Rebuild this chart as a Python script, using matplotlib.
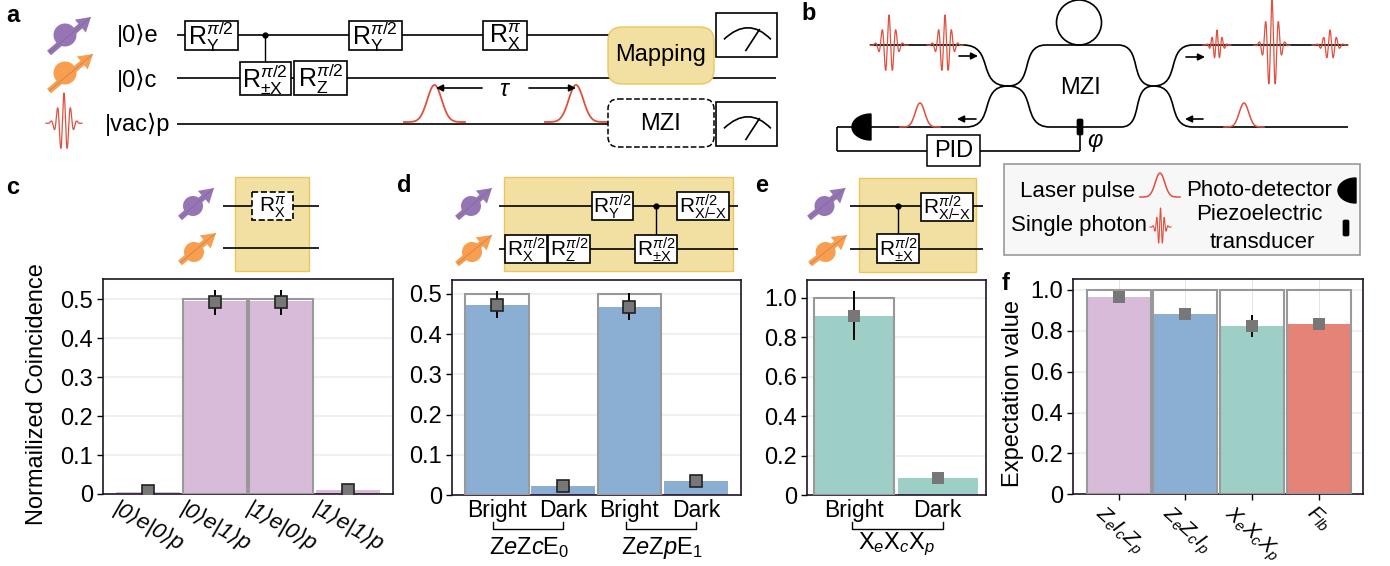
import numpy as np
import matplotlib
matplotlib.use('Agg')
import matplotlib.pyplot as plt
from matplotlib.patches import Rectangle, FancyBboxPatch, Circle, FancyArrow, PathPatch
from matplotlib.path import Path

plt.rcParams['font.family'] = ['Liberation Sans', 'DejaVu Sans']
plt.rcParams['mathtext.fontset'] = 'custom'
plt.rcParams['mathtext.rm'] = 'Liberation Sans'
plt.rcParams['mathtext.it'] = 'Liberation Sans:italic'
plt.rcParams['mathtext.bf'] = 'Liberation Sans:bold'

# ── Data ──────────────────────────────────────────────────────────────────────
c_labels = ['|0⟩e|0⟩p', '|0⟩e|1⟩p', '|1⟩e|0⟩p', '|1⟩e|1⟩p']
c_ideal = [0, 0.5, 0.5, 0]
c_bars = [0.005, 0.495, 0.495, 0.01]
c_points = [0.008, 0.492, 0.492, 0.011]
c_errs = [0.004, 0.033, 0.033, 0.004]
c_ticks = [0, 0.1, 0.2, 0.3, 0.4, 0.5]

d_labels = ['Bright', 'Dark', 'Bright', 'Dark']
d_ideal = [0.5, 0, 0.5, 0]
d_bars = [0.473, 0.024, 0.468, 0.036]
d_points = [0.473, 0.023, 0.468, 0.035]
d_errs = [0.0335, 0.004, 0.0335, 0.004]
d_ticks = [0, 0.1, 0.2, 0.3, 0.4, 0.5]

e_labels = ['Bright', 'Dark']
e_ideal = [1, 0]
e_bars = [0.91, 0.088]
e_points = [0.91, 0.088]
e_errs = [0.124, 0.02]
e_ticks = [0, 0.2, 0.4, 0.6, 0.8, 1.0]

f_labels = [r'$\mathit{Z_eI_cZ_p}$', r'$\mathit{Z_eZ_cI_p}$',
            r'$\mathit{X_eX_cX_p}$', r'$\mathit{F_{lb}}$']
f_ideal = [1, 1, 1, 1]
f_bars = [0.965, 0.882, 0.822, 0.833]
f_points = [0.965, 0.882, 0.822, 0.833]
f_errs = [0.01, 0.01, 0.054, 0.03]
f_ticks = [0, 0.2, 0.4, 0.6, 0.8, 1.0]

PURPLE = '#D8BBD8'
BLUE = '#8AAFD2'
TEAL = '#9DCFC6'
SALMON = '#E58377'
YELLOW = '#F2DFA2'
YEDGE = '#EBC65E'
RED = '#E0503F'
Q_PURPLE = '#9675B5'
Q_ORANGE = '#F99D4F'

W, H = 1390, 566
fig = plt.figure(figsize=(W / 100, H / 100), dpi=100)


# ── Bar panels ────────────────────────────────────────────────────────────────
def px_axes(left, top, right, bottom):
    return fig.add_axes([left / W, 1 - bottom / H, (right - left) / W, (bottom - top) / H])


def fmt(v):
    return '0' if v == 0 else f'{v:.1f}'


def bar_panel(ax, ideal, bars, points, errs, color, ticks, xlim, ylim, labels, edge=True):
    xs = np.arange(len(bars))
    ax.bar(xs, bars, width=0.96, color=color, zorder=2)
    for x, v in zip(xs, ideal):
        if v > 0:
            ax.bar(x, v, width=0.96, fill=False, edgecolor='#999999', lw=1.5, zorder=3)
    ax.errorbar(xs, points, yerr=errs, fmt='s', ms=8, mfc='#777777',
                mec='#222222' if edge else '#777777', mew=1.2 if edge else 0,
                ecolor='black', elinewidth=1.4, zorder=4)
    ax.set_xlim(*xlim)
    ax.set_ylim(*ylim)
    ax.set_yticks(ticks)
    ax.set_yticklabels([fmt(t) for t in ticks], fontsize=17)
    ax.set_xticks(xs)
    ax.set_xticklabels(labels, fontsize=16.5)
    ax.tick_params(axis='y', length=4, width=1, pad=3)
    ax.tick_params(axis='x', length=0, pad=3)
    ax.grid(axis='y', color='#EEEEEE', lw=1.2, zorder=0)
    ax.set_axisbelow(True)
    for s in ax.spines.values():
        s.set_color('#20142A')
        s.set_linewidth(1.2)


ax_c = px_axes(103, 279, 393, 494)
bar_panel(ax_c, c_ideal, c_bars, c_points, c_errs, PURPLE, c_ticks,
          (-0.676, 3.68), (0, 0.552), c_labels)
plt.setp(ax_c.get_xticklabels(), rotation=-30, ha='center', va='top', style='italic', fontsize=16)
ax_c.set_ylabel('Normailized Coincidence', fontsize=17, va='center')
ax_c.yaxis.set_label_coords(-0.228, 0.465)

ax_d = px_axes(451.7, 280, 741, 495.3)
bar_panel(ax_d, d_ideal, d_bars, d_points, d_errs, BLUE, d_ticks,
          (-0.678, 3.68), (0, 0.534), d_labels)

ax_e = px_axes(806.6, 280, 985.8, 495.3)
bar_panel(ax_e, e_ideal, e_bars, e_points, e_errs, TEAL, e_ticks,
          (-0.573, 1.579), (0, 1.09), e_labels, edge=False)

ax_f = px_axes(1073, 279.3, 1363.4, 494.3)
bar_panel(ax_f, f_ideal, f_bars, f_points, f_errs, [PURPLE, BLUE, TEAL, SALMON], f_ticks,
          (-0.688, 3.673), (0, 1.052), f_labels, edge=False)
plt.setp(ax_f.get_xticklabels(), rotation=-42, ha='center', va='top', fontsize=15)
ax_f.tick_params(axis='x', length=4, width=1, pad=2)
ax_f.grid(axis='x', color='#E4E4E4', lw=0.7)
for artist in ax_f.get_xgridlines():
    artist.set_zorder(3)
ax_f.set_ylabel('Expectation value', fontsize=17, va='center')
ax_f.yaxis.set_label_coords(-0.208, 0.47)

# ── Overlay in pixel coordinates for the schematics ───────────────────────────
ov = fig.add_axes([0, 0, 1, 1], zorder=5)
ov.set_xlim(0, W)
ov.set_ylim(H, 0)
ov.axis('off')
ov.patch.set_alpha(0)


def wire(x0, y0, x1, y1, lw=1.2, z=1):
    ov.plot([x0, x1], [y0, y1], color='black', lw=lw, solid_capstyle='butt', zorder=z)


def gate(x0, y0, x1, y1, sup, sub, dashed=False, size=15):
    ov.add_patch(Rectangle((x0, y0), x1 - x0, y1 - y0, fc='white', ec='black',
                           lw=1.2, ls='--' if dashed else '-', zorder=4))
    ov.text((x0 + x1) / 2, (y0 + y1) / 2 + 1, rf'R$^{{{sup}}}_{{{sub}}}$', fontsize=size,
            ha='center', va='center', zorder=5)


def control(x, y0, y1):
    ov.plot([x, x], [y0, y1], color='black', lw=1, zorder=3)
    ov.plot(x, y0, 'o', color='black', ms=3.5, zorder=3)


def qubit(cx, cy, x0, y0, x1, y1, color, r=10, w=6, hw=17, hl=14):
    ov.add_patch(Circle((cx, cy), r, fc=color, ec='none', zorder=3))
    ov.add_patch(FancyArrow(x0, y0, x1 - x0, y1 - y0, width=w, head_width=hw, head_length=hl,
                            length_includes_head=True, fc=color, ec='none', zorder=3))
    ov.plot([x0, x1], [y0, y1], color='#555555', lw=0.3, alpha=0.6, zorder=3)


def meter(x0, y0, x1, y1):
    ov.add_patch(Rectangle((x0, y0), x1 - x0, y1 - y0, fc='white', ec='black', lw=1.2, zorder=4))
    w, h = x1 - x0, y1 - y0
    path = Path([(x0 + 0.13 * w, y0 + 0.6 * h), (x0 + 0.53 * w, y0 + 0.07 * h),
                 (x0 + 0.9 * w, y0 + 0.6 * h)], [Path.MOVETO, Path.CURVE3, Path.CURVE3])
    ov.add_patch(PathPatch(path, fc='none', ec='black', lw=1.2, zorder=5))
    ov.plot([x0 + 0.49 * w, x0 + 0.71 * w], [y0 + 0.85 * h, y0 + 0.38 * h], color='black', lw=1.2, zorder=5)


def pulse(x0, x1, base, top, lw=1.1):
    xs = np.linspace(x0, x1, 120)
    c = (x0 + x1) / 2
    s = (x1 - x0) / 8.5
    ov.plot(xs, base - (base - top) * np.exp(-(xs - c) ** 2 / (2 * s ** 2)), color=RED, lw=lw, zorder=3)


def wave(x0, x1, y, amp, lw=0.9, cycles=5.5):
    xs = np.linspace(x0, x1, 500)
    c = (x0 + x1) / 2
    s = (x1 - x0) / 6.5
    env = np.exp(-(xs - c) ** 2 / (2 * s ** 2))
    ov.plot(xs, y - amp * env * np.cos(2 * np.pi * cycles * (xs - c) / (x1 - x0)), color=RED, lw=lw, zorder=3)


def sbend(x0, y0, x1, y1):
    dx = 0.72 * (x1 - x0)
    path = Path([(x0, y0), (x0 + dx, y0), (x1 - dx, y1), (x1, y1)],
                [Path.MOVETO, Path.CURVE4, Path.CURVE4, Path.CURVE4])
    ov.add_patch(PathPatch(path, fc='none', ec='black', lw=1.2, zorder=1))


def arrow(x0, x1, y, lw=1.2):
    ov.annotate('', xy=(x1, y), xytext=(x0, y),
                arrowprops=dict(arrowstyle='-|>', color='black', lw=lw, shrinkA=0, shrinkB=0, mutation_scale=10),
                zorder=4)


def detector(xr, y, rx, ry):
    t = np.linspace(np.pi / 2, 3 * np.pi / 2, 40)
    ov.fill(xr + rx * np.cos(t), y + ry * np.sin(t), color='black', zorder=4)


def pzt(x0, x1, y0, y1):
    ov.add_patch(FancyBboxPatch((x0, y0), x1 - x0, y1 - y0, boxstyle='round,pad=0,rounding_size=1.5',
                                fc='black', ec='black', lw=0.5, zorder=4))


def bracket(x0, x1, y0, y1):
    ov.plot([x0, x0, x1, x1], [y0, y1, y1, y0], color='black', lw=1, zorder=3)


def yellow_box(x0, y0, x1, y1):
    ov.add_patch(Rectangle((x0, y0), x1 - x0, y1 - y0, fc=YELLOW, ec=YEDGE, lw=1, zorder=0))


for txt, x, y in [('a', 6, 15), ('b', 801, 13), ('c', 6, 187), ('d', 397, 186), ('e', 755, 186), ('f', 1002, 283)]:
    ov.text(x, y, txt, fontsize=17, fontweight='bold', ha='left', va='center')

# ── Panel a ───────────────────────────────────────────────────────────────────
qubit(65, 35, 49, 53, 91, 17, Q_PURPLE, r=11.5)
qubit(65, 73, 49, 91, 93, 54, Q_ORANGE, r=11.5)
wave(46, 82, 123, 30)
ov.text(117, 35, '|0⟩e', fontsize=17, va='center')
ov.text(117, 80, '|0⟩c', fontsize=17, va='center')
ov.text(105, 124, '|vac⟩p', fontsize=17, va='center')
wire(177, 35, 610, 35)
wire(177, 78, 776, 78)
wire(177, 124, 610, 124)
gate(185, 21, 237.5, 50, r'\pi/2', r'\mathrm{Y}', size=18)
gate(239.5, 62, 291, 95, r'\pi/2', r'\pm\mathrm{X}', size=18)
gate(294, 61, 347, 95, r'\pi/2', r'\mathrm{Z}', size=18)
gate(349, 21, 401.5, 50, r'\pi/2', r'\mathrm{Y}', size=18)
gate(482.5, 21, 527, 50, r'\pi', r'\mathrm{X}', size=18)
control(265, 35, 62)
pulse(404, 465, 122, 85, lw=1.3)
pulse(545, 607, 122, 85, lw=1.3)
arrow(482, 436, 88)
arrow(529, 576, 88)
ov.text(505, 90, r'$\tau$', fontsize=17, ha='center', va='center')
ov.add_patch(FancyBboxPatch((608, 27), 106, 57, boxstyle='round,pad=0,rounding_size=14',
                            fc=YELLOW, ec=YEDGE, lw=1, zorder=4))
ov.text(661, 55, 'Mapping', fontsize=17, ha='center', va='center', zorder=5)
ov.add_patch(FancyBboxPatch((608, 99), 106, 48, boxstyle='round,pad=0,rounding_size=10',
                            fc='white', ec='black', lw=1.1, ls='--', zorder=4))
ov.text(660, 124, 'MZI', fontsize=17, ha='center', va='center', zorder=5)
meter(716, 13, 777, 57)
meter(716, 102, 777, 146)

# ── Panel b ───────────────────────────────────────────────────────────────────
wire(870, 45, 963, 45)
wire(871, 127, 966, 127)
wire(1046, 45, 1118, 45)
wire(1050, 127, 1121, 127)
wire(1193, 45, 1348, 45)
wire(1193, 127, 1348, 127)
sbend(963, 45, 1008, 86)
sbend(966, 127, 1008, 86)
sbend(1008, 86, 1046, 45)
sbend(1008, 86, 1050, 127)
sbend(1118, 45, 1153.5, 86)
sbend(1121, 127, 1153.5, 86)
sbend(1153.5, 86, 1193, 45)
sbend(1153.5, 86, 1193, 127)
ov.add_patch(Circle((1079, 22.5), 22.5, fc='none', ec='black', lw=1.2))
ov.text(1081, 88, 'MZI', fontsize=17, ha='center', va='center')
arrow(959, 978, 56)
arrow(976, 957, 119)
arrow(1186, 1205, 57)
arrow(1203, 1185, 119)
wave(870, 908, 45, 30)
wave(927, 963, 45, 30)
wave(1203, 1231, 45, 15)
wave(1254, 1290, 45, 46)
wave(1312, 1348, 45, 15)
pulse(900, 940, 127, 103)
pulse(1224, 1264, 127, 103)
pzt(1077, 1083, 119, 135)
ov.text(1095, 143, r'$\varphi$', fontsize=17, ha='center', va='center')
wire(1080, 135, 1080, 151)
wire(1080, 151, 980, 151)
ov.add_patch(Rectangle((927, 135), 53, 31, fc='white', ec='black', lw=1.1, zorder=4))
ov.text(953.5, 151, 'PID', fontsize=17, ha='center', va='center', zorder=5)
wire(927, 151, 837, 151)
wire(837, 151, 837, 127)
wire(837, 127, 871, 127)
detector(871, 127, 19, 13)

# ── Legend box ────────────────────────────────────────────────────────────────
ov.add_patch(Rectangle((1004, 164), 356, 91, fc='#F7F7F7', ec='#999999', lw=1.2, zorder=0))
ov.text(1020, 191, 'Laser pulse', fontsize=16, va='center')
pulse(1140, 1180, 197, 173)
ov.text(1186, 191, 'Photo-detector', fontsize=16, va='center')
detector(1356, 190.5, 18, 12.5)
ov.text(1011, 226, 'Single photon', fontsize=16, va='center')
wave(1150, 1171, 227, 19, lw=0.8)
ov.text(1259, 214, 'Piezoelectric', fontsize=16, ha='center', va='center')
ov.text(1262, 242, 'transducer', fontsize=16, ha='center', va='center')
pzt(1343, 1349, 220, 236)

# ── Panel c schematic ─────────────────────────────────────────────────────────
yellow_box(235, 177, 309, 271)
qubit(193, 206, 180, 218, 214, 188, Q_PURPLE)
qubit(194, 252, 180, 263, 216, 233, Q_ORANGE)
wire(223, 206, 319, 206)
wire(223, 248, 319, 248)
gate(252, 192, 293, 220, r'\pi', r'\mathrm{X}', dashed=True)

# ── Panel d schematic ─────────────────────────────────────────────────────────
yellow_box(504, 177, 733, 271)
qubit(471, 206, 457, 218, 492, 188, Q_PURPLE)
qubit(472, 252, 457, 264, 492, 235, Q_ORANGE)
wire(499, 206, 738, 206)
wire(499, 249, 738, 249)
gate(505, 235, 547, 263, r'\pi/2', r'\mathrm{X}')
gate(548, 235, 590, 263, r'\pi/2', r'\mathrm{Z}')
gate(592, 192, 633, 220, r'\pi/2', r'\mathrm{Y}')
gate(635, 235, 677, 263, r'\pi/2', r'\pm\mathrm{X}')
gate(677, 192, 729, 220, r'\pi/2', r'\mathrm{X/\!\!-\!X}')
control(656, 206, 235)

# ── Panel e schematic ─────────────────────────────────────────────────────────
yellow_box(859, 178, 975.5, 272)
qubit(824.5, 206, 809, 218, 845.5, 188, Q_PURPLE)
qubit(825.6, 252, 810, 264, 847, 235, Q_ORANGE)
wire(849.5, 206, 983.4, 206)
wire(849.5, 249, 983.4, 249)
gate(877, 234, 919, 263, r'\pi/2', r'\pm\mathrm{X}')
gate(920.6, 193, 972.7, 221, r'\pi/2', r'\mathrm{X/\!\!-\!X}')
control(898, 206, 234)

# ── Brackets under d and e ────────────────────────────────────────────────────
bracket(493, 563, 522, 529)
bracket(626, 696, 522, 529)
bracket(852, 943, 522, 529)
ov.text(529, 548, r'Z$\mathit{e}$Z$\mathit{c}$E$_0$', fontsize=17, ha='center', va='center')
ov.text(662, 548, r'Z$\mathit{e}$Z$\mathit{p}$E$_1$', fontsize=17, ha='center', va='center')
ov.text(897, 544, r'X$_{\mathit{e}}$X$_{\mathit{c}}$X$_{\mathit{p}}$', fontsize=17, ha='center', va='center')

fig.savefig('out.png', dpi=100)
